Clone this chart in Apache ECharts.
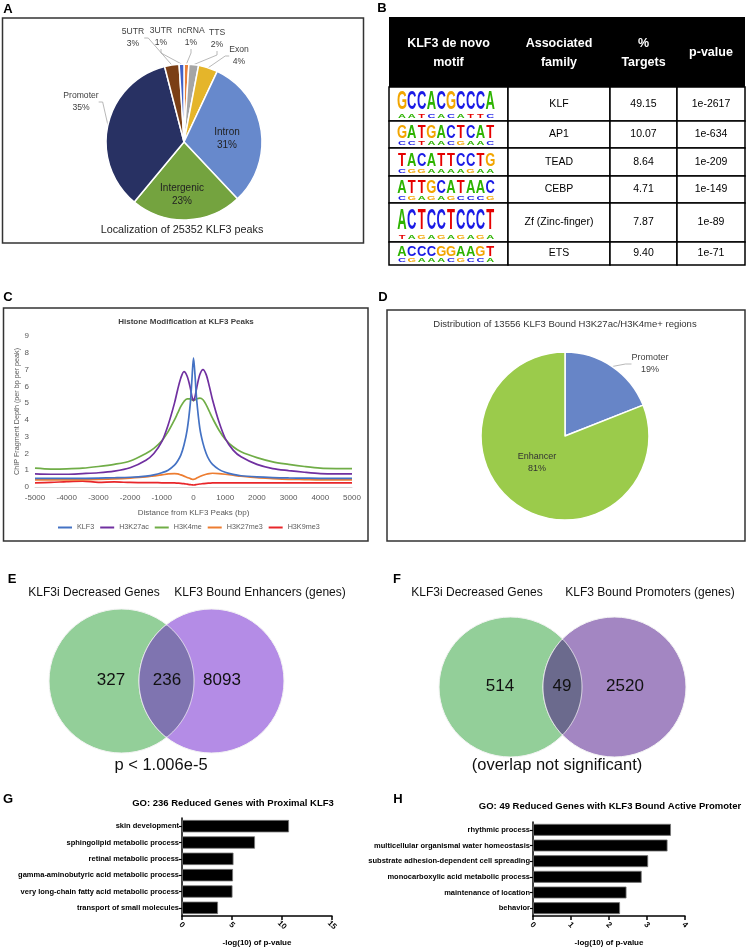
<!DOCTYPE html>
<html>
<head>
<meta charset="utf-8">
<script src="https://cdn.jsdelivr.net/npm/echarts/dist/echarts.min.js"></script>
<style>
html,body{margin:0;padding:0;background:#fff}
#main{width:747px;height:948px}
</style>
</head>
<body>
<div id="main"></div>
<script>
// A: localization of KLF3 peaks (%)
var locNames = ['ncRNA','TTS','Exon','Intron','Intergenic','Promoter','5UTR','3UTR'];
var locPct = [1, 2, 4, 31, 23, 35, 3, 1];
var locColors = ['#E8803A','#A5A5A5','#E5B52A','#6789CC','#74A33F','#283163','#7B3F16','#4060C8'];

// B: de novo motifs
var motifSeqs = ['GCCACGCCCA','GATGACTCAT','TACATTCCTG','ATTGCATAAC','ACTCCTCCCT','ACCCGGAAGT'];
var motifSub  = ['AATCACATTC','CCTAACGAAC','CGGAAAAGAA','CGAGAGCCCG','TAGAGAGAGA','CGAAACGCCA'];
var motifFamilies = ['KLF','AP1','TEAD','CEBP','Zf (Zinc-finger)','ETS'];
var motifTargets = [49.15, 10.07, 8.64, 4.71, 7.87, 9.40];
var motifPvals = ['1e-2617','1e-634','1e-209','1e-149','1e-89','1e-71'];

// C: histone modification profiles
var seriesNames = ['KLF3','H3K27ac','H3K4me','H3K27me3','H3K9me3'];
var distBp = [-5000,-4500,-4000,-3500,-3000,-2500,-2000,-1500,-1250,-1000,-800,-600,-500,-400,-300,-200,-100,-50,0,50,100,200,300,400,500,600,800,1000,1250,1500,2000,2500,3000,3500,4000,4500,5000];
var klf3Depth = [0.52,0.52,0.52,0.52,0.53,0.55,0.58,0.65,0.72,0.85,1.0,1.3,1.55,1.9,2.5,3.4,5.0,6.4,7.7,6.6,5.2,3.5,2.6,2.0,1.6,1.35,1.05,0.88,0.75,0.67,0.6,0.56,0.54,0.53,0.52,0.52,0.52];
var h3k27acDepth = [0.78,0.76,0.76,0.8,0.85,0.95,1.15,1.6,2.0,2.7,3.7,5.0,5.8,6.5,6.88,6.6,5.9,5.4,5.15,5.4,5.9,6.7,7.0,6.7,6.0,5.2,3.9,2.9,2.2,1.8,1.35,1.1,0.98,0.88,0.8,0.78,0.78];
var h3k4meDepth = [1.12,1.07,1.08,1.12,1.22,1.35,1.55,2.0,2.3,2.75,3.3,4.0,4.4,4.8,5.1,5.25,5.25,5.2,5.15,5.2,5.25,5.3,5.2,4.9,4.5,4.1,3.4,2.85,2.4,2.1,1.75,1.5,1.35,1.22,1.12,1.1,1.1];
var h3k27me3Depth = [0.42,0.42,0.42,0.43,0.45,0.48,0.53,0.6,0.66,0.72,0.78,0.8,0.78,0.72,0.65,0.57,0.5,0.46,0.45,0.48,0.53,0.62,0.7,0.76,0.8,0.82,0.8,0.76,0.7,0.64,0.55,0.5,0.46,0.44,0.42,0.42,0.42];
var h3k9me3Depth = [0.25,0.27,0.32,0.35,0.28,0.3,0.27,0.26,0.26,0.25,0.25,0.24,0.23,0.22,0.2,0.17,0.14,0.13,0.12,0.13,0.15,0.18,0.2,0.22,0.23,0.24,0.25,0.25,0.25,0.25,0.25,0.25,0.25,0.25,0.25,0.25,0.25];
var depthColors = ['#4472C4','#7030A0','#70AD47','#ED7D31','#E8262A'];

// D: bound active regions (%)
var regionNames = ['Promoter','Enhancer'];
var regionPct = [19, 81];

// E, F: venn counts [left only, overlap, right only]
var vennE = [327, 236, 8093];
var vennF = [514, 49, 2520];

// G, H: GO terms
var goTermsG = ['skin development','sphingolipid metabolic process','retinal metabolic process','gamma-aminobutyric acid metabolic process','very long-chain fatty acid metabolic process','transport of small molecules'];
var goValsG = [10.7, 7.3, 5.15, 5.1, 5.05, 3.6];
var goTermsH = ['rhythmic process','multicellular organismal water homeostasis','substrate adhesion-dependent cell spreading','monocarboxylic acid metabolic process','maintenance of location','behavior'];
var goValsH = [3.63, 3.54, 3.03, 2.86, 2.46, 2.29];

var FONT = 'Liberation Sans, Arial, sans-serif';
var myChart = echarts.init(document.getElementById('main'));

var g = []; // graphic elements

function txt(x, y, s, size, opt){
    opt = opt || {};
    g.push({type:'text', x:x, y:y, z:opt.z || 10, style:{text:s, fill:opt.color || '#000',
        font:(opt.bold ? 'bold ' : '') + size + 'px ' + FONT,
        textAlign:opt.align || 'center', textVerticalAlign:'middle'}});
}
function box(x, y, w, h){
    g.push({type:'rect', shape:{x:x, y:y, width:w, height:h}, z:1,
        style:{fill:'none', stroke:'#333', lineWidth:1.5}});
}

// panel letters
txt(8, 9, 'A', 13, {bold:true});
txt(382, 8, 'B', 13, {bold:true});
txt(8, 297, 'C', 13, {bold:true});
txt(383, 297, 'D', 13, {bold:true});
txt(12, 579, 'E', 13, {bold:true});
txt(397, 579, 'F', 13, {bold:true});
txt(8, 799, 'G', 13, {bold:true});
txt(398, 799, 'H', 13, {bold:true});

// panel boxes
box(2.5, 18, 361, 225);
box(3.5, 308, 364.5, 233);
box(387, 310, 358, 231);

txt(182, 230, 'Localization of 25352 KLF3 peaks', 10.8, {color:'#222'});
txt(186, 322, 'Histone Modification at KLF3 Peaks', 8, {bold:true, color:'#404040'});
txt(565, 324, 'Distribution of 13556 KLF3 Bound H3K27ac/H3K4me+ regions', 9.5, {color:'#333'});

// table B
var colEdges = [389, 508, 610, 677, 745];
var rowEdges = [17, 87, 121, 148, 176, 203, 242, 265];
g.push({type:'rect', shape:{x:389, y:17, width:356, height:70}, z:2, style:{fill:'#000'}});
var hdr = [['KLF3 de novo','motif'],['Associated','family'],['%','Targets'],['p-value']];
hdr.forEach(function(h, c){
    var cx = (colEdges[c] + colEdges[c+1]) / 2;
    if (h.length === 2){
        txt(cx, 44, h[0], 12.5, {bold:true, color:'#fff'});
        txt(cx, 63, h[1], 12.5, {bold:true, color:'#fff'});
    } else {
        txt(cx, 53, h[0], 12.5, {bold:true, color:'#fff'});
    }
});
var baseColor = {A:'#2DB300', C:'#1A1AE6', G:'#F2A500', T:'#E60000'};
for (var r = 0; r < motifFamilies.length; r++){
    var y0 = rowEdges[r+1], y1 = rowEdges[r+2], rh = y1 - y0, cy = (y0 + y1) / 2;
    for (var c = 0; c < 4; c++){
        g.push({type:'rect', shape:{x:colEdges[c], y:y0, width:colEdges[c+1]-colEdges[c], height:rh}, z:2,
            style:{fill:'#fff', stroke:'#000', lineWidth:1.5}});
    }
    txt(559, cy, motifFamilies[r], 10.5);
    txt(643.5, cy, motifTargets[r].toFixed(2), 10.5);
    txt(711, cy, motifPvals[r], 10.5);
    var seq = motifSeqs[r], sub = motifSub[r];
    for (var k = 0; k < seq.length; k++){
        var lx = 402 + k * 9.8;
        g.push({type:'text', x:lx, y:y1 - 6, scaleY:(rh - 9) / 13, z:5,
            style:{text:seq[k], fill:baseColor[seq[k]], font:'bold 13px ' + FONT, textAlign:'center', textVerticalAlign:'bottom'}});
        g.push({type:'text', x:lx, y:y1 - 2, scaleY:0.45, z:5,
            style:{text:sub[k], fill:baseColor[sub[k]], font:'bold 11px ' + FONT, textAlign:'center', textVerticalAlign:'bottom'}});
    }
}

// venn diagrams
function inside(p, e){
    var dx = (p[0] - e.cx) / e.rx, dy = (p[1] - e.cy) / e.ry;
    return dx * dx + dy * dy <= 1.0001;
}
function lens(a, b){
    var pts = [], k, t, p;
    for (k = 0; k <= 240; k++){
        t = -Math.PI / 2 + Math.PI * k / 240;
        p = [a.cx + a.rx * Math.cos(t), a.cy + a.ry * Math.sin(t)];
        if (inside(p, b)) pts.push(p);
    }
    for (k = 0; k <= 240; k++){
        t = Math.PI / 2 + Math.PI * k / 240;
        p = [b.cx + b.rx * Math.cos(t), b.cy + b.ry * Math.sin(t)];
        if (inside(p, a)) pts.push(p);
    }
    return pts;
}
function venn(a, b, cols, counts, pos, titles, note){
    [a, b].forEach(function(e, i){
        g.push({type:'ellipse', shape:{cx:e.cx, cy:e.cy, rx:e.rx, ry:e.ry}, z:3,
            style:{fill:cols[i], stroke:'#f4f4f4', lineWidth:1}});
    });
    g.push({type:'polygon', shape:{points:lens(a, b)}, z:4, style:{fill:cols[2], stroke:'#f4f4f4', lineWidth:0.8}});
    counts.forEach(function(v, i){ txt(pos[i], (a.cy + b.cy) / 2 - 1, String(v), 17, {color:'#111'}); });
    txt(titles[0][0], 593, titles[0][1], 12, {color:'#111'});
    txt(titles[1][0], 593, titles[1][1], 12, {color:'#111'});
    txt(note[0], 765, note[1], 16.5, {color:'#111'});
}
venn({cx:121.5, cy:681, rx:72.5, ry:72}, {cx:211.5, cy:681, rx:72.5, ry:72},
    ['#93CF99','#B48CE6','#7F74B0'], vennE, [111, 167, 222],
    [[94, 'KLF3i Decreased Genes'], [260, 'KLF3 Bound Enhancers (genes)']], [161, 'p < 1.006e-5']);
venn({cx:510.5, cy:687, rx:71.5, ry:70}, {cx:614.5, cy:687, rx:71.5, ry:70},
    ['#93CF99','#A386C2','#6B6A8D'], vennF, [500, 562, 625],
    [[477, 'KLF3i Decreased Genes'], [650, 'KLF3 Bound Promoters (genes)']], [557, '(overlap not significant)']);

// GO titles
txt(233, 803, 'GO: 236 Reduced Genes with Proximal KLF3', 9.5, {bold:true});
txt(610, 806, 'GO: 49 Reduced Genes with KLF3 Bound Active Promoter', 9.5, {bold:true});

// pie label spots
var locLabelPos = {ncRNA:[191,37], TTS:[217,39], Exon:[239,56], Intron:[227,139], Intergenic:[182,195],
    Promoter:[81,102], '5UTR':[133,38], '3UTR':[161,37]};
var regionLabelPos = {Promoter:[650,364], Enhancer:[537,463]};

function pieLayout(posMap, names){
    return function(p){
        var xy = posMap[names[p.dataIndex]];
        return {x:xy[0], y:xy[1], align:'center', verticalAlign:'middle'};
    };
}

var lineSeries = seriesNames.map(function(n, i){
    var vals = [klf3Depth, h3k27acDepth, h3k4meDepth, h3k27me3Depth, h3k9me3Depth][i];
    return {
        name:n, type:'line', xAxisIndex:0, yAxisIndex:0, smooth:0.3, symbol:'none',
        lineStyle:{width:1.7, color:depthColors[i]}, itemStyle:{color:depthColors[i]},
        z:5 - i,
        data:distBp.map(function(x, j){ return [x, vals[j]]; })
    };
});

function goX(idx, max, interval){
    return {
        type:'value', gridIndex:idx, min:0, max:max, interval:interval,
        axisLine:{show:true, lineStyle:{color:'#000', width:1.5}},
        axisTick:{show:true, length:4, lineStyle:{color:'#000', width:1.5}},
        axisLabel:{rotate:-45, align:'center', verticalAlign:'middle', fontSize:8, fontWeight:'bold',
            color:'#000', margin:9, fontFamily:FONT},
        splitLine:{show:false},
        name:'-log(10) of p-value', nameLocation:'middle', nameGap:23,
        nameTextStyle:{fontSize:8, fontWeight:'bold', color:'#000', fontFamily:FONT}
    };
}
function goY(idx, terms){
    return {
        type:'category', gridIndex:idx, data:terms, inverse:true,
        axisLine:{show:true, lineStyle:{color:'#000', width:1.5}},
        axisTick:{show:true, length:3, alignWithLabel:true, lineStyle:{color:'#000', width:1.2}},
        axisLabel:{fontSize:7.5, fontWeight:'bold', color:'#000', margin:3, fontFamily:FONT}
    };
}

var option = {
    animation:false,
    backgroundColor:'#fff',
    textStyle:{fontFamily:FONT},
    graphic:{elements:g},
    legend:{
        data:seriesNames, left:58, top:524, itemWidth:14, itemHeight:2, itemGap:6, icon:'rect',
        padding:0, textStyle:{fontSize:7.2, color:'#595959', fontFamily:FONT}
    },
    grid:[
        {left:35, top:336, width:317, height:151},
        {left:182, top:818, width:150, height:100},
        {left:533, top:822, width:152, height:101}
    ],
    xAxis:[
        {
            type:'value', gridIndex:0, min:-5000, max:5000, interval:1000,
            axisLine:{show:true, lineStyle:{color:'#D9D9D9'}}, axisTick:{show:false},
            axisLabel:{fontSize:8, color:'#595959', margin:7, formatter:function(v){ return String(v); }},
            splitLine:{show:false},
            name:'Distance from KLF3 Peaks (bp)', nameLocation:'middle', nameGap:22,
            nameTextStyle:{fontSize:8, color:'#595959'}
        },
        goX(1, 15, 5),
        goX(2, 4, 1)
    ],
    yAxis:[
        {
            type:'value', gridIndex:0, min:0, max:9, interval:1,
            axisLine:{show:false}, axisTick:{show:false}, splitLine:{show:false},
            axisLabel:{fontSize:8, color:'#595959', margin:6},
            name:'ChIP Fragment Depth (per bp per peak)', nameLocation:'middle', nameGap:14,
            nameTextStyle:{fontSize:7.2, color:'#595959'}
        },
        goY(1, goTermsG),
        goY(2, goTermsH)
    ],
    series:lineSeries.concat([
        {
            type:'bar', xAxisIndex:1, yAxisIndex:1, data:goValsG, barCategoryGap:'24%',
            itemStyle:{color:'#000', borderColor:'#777', borderWidth:0.8}
        },
        {
            type:'bar', xAxisIndex:2, yAxisIndex:2, data:goValsH, barCategoryGap:'24%',
            itemStyle:{color:'#000', borderColor:'#777', borderWidth:0.8}
        },
        {
            type:'pie', center:[184,142], radius:78, startAngle:90, clockwise:true,
            avoidLabelOverlap:false, itemStyle:{borderColor:'#fff', borderWidth:1.5},
            label:{formatter:'{b}\n{c}%', fontSize:8.6, lineHeight:12, color:'#404040'},
            labelLine:{show:true, length:6, length2:4, lineStyle:{color:'#A6A6A6', width:0.8}},
            labelLayout:pieLayout(locLabelPos, locNames),
            data:locNames.map(function(n, i){
                var inner = (n === 'Intron' || n === 'Intergenic');
                return {name:n, value:locPct[i], itemStyle:{color:locColors[i]},
                    label:inner ? {position:'inside', color:'#222', fontSize:10, lineHeight:13} : {},
                    labelLine:inner ? {show:false} : {}};
            })
        },
        {
            type:'pie', center:[565,436], radius:84, startAngle:90, clockwise:true,
            avoidLabelOverlap:false, itemStyle:{borderColor:'#fff', borderWidth:1.5},
            label:{formatter:'{b}\n{c}%', fontSize:9, lineHeight:12, color:'#404040'},
            labelLine:{show:true, length:8, length2:6, lineStyle:{color:'#A6A6A6', width:0.8}},
            labelLayout:pieLayout(regionLabelPos, regionNames),
            data:regionNames.map(function(n, i){
                var inner = (n === 'Enhancer');
                return {name:n, value:regionPct[i], itemStyle:{color:['#6785C7','#9BCB4B'][i]},
                    label:inner ? {position:'inside', color:'#333'} : {},
                    labelLine:inner ? {show:false} : {}};
            })
        }
    ])
};
myChart.setOption(option);
</script>
</body>
</html>
